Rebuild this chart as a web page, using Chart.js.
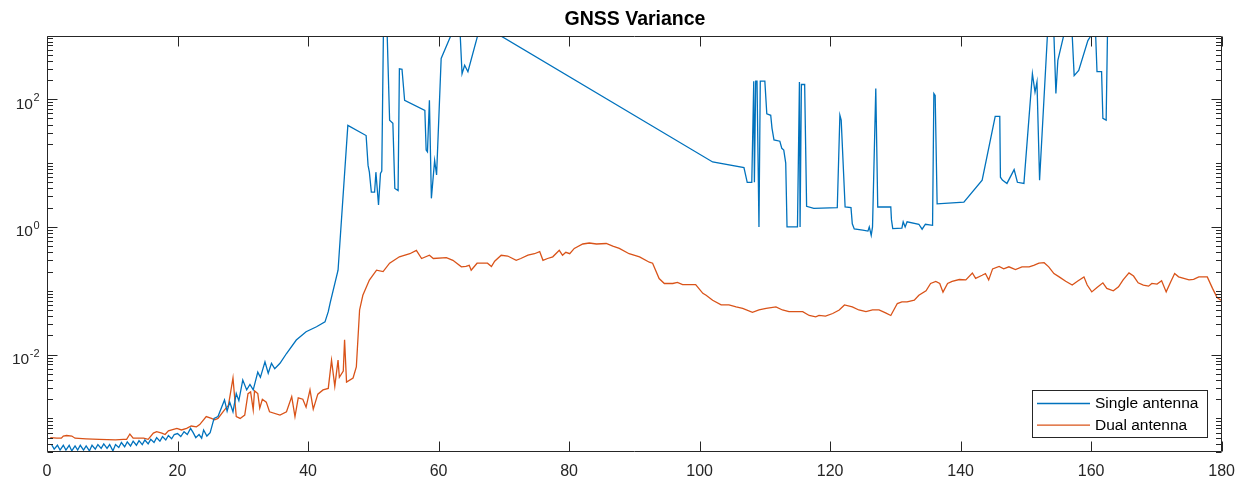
<!DOCTYPE html>
<html>
<head>
<meta charset="utf-8">
<title>GNSS Variance</title>
<script src="https://cdn.jsdelivr.net/npm/chart.js@4.4.1/dist/chart.umd.min.js"></script>
<style>
  html, body { margin: 0; padding: 0; background: #fff; }
</style>
</head>
<body>
<canvas id="chart" width="1245" height="481"></canvas>
<script>
const titleText = 'GNSS Variance';
const seriesNames = ['Single antenna', 'Dual antenna'];
const seriesColors = ['#0072BD', '#D95319'];

const xTickValues = [0, 20, 40, 60, 80, 100, 120, 140, 160, 180];
const yTickValues = [1e-2, 1e0, 1e2];
const yTickBase = '10';
const yTickExponents = ['-2', '0', '2'];

// single antenna (blue), values above ~1000 run off the top of the axes
const singleX = [0.7, 1.1, 1.6, 2.0, 2.5, 2.9, 3.4, 3.8, 4.3, 4.7, 5.1, 5.6, 6.0, 6.5, 6.9, 7.4, 7.8, 8.3, 8.7, 9.2,
  9.6, 10.1, 10.5, 11.0, 11.4, 11.9, 12.3, 12.8, 13.2, 13.7, 14.1, 14.6, 15.0, 15.5, 15.9, 16.4, 16.8, 17.3, 17.7, 18.2,
  18.6, 19.1, 19.5, 20.0, 20.5, 21.0, 21.5, 22.0, 22.4, 22.8, 23.3, 23.7, 24.0, 24.5, 25.0, 25.6, 26.2, 27.2, 27.6, 28.0,
  28.5, 29.0, 29.4, 30.0, 30.6, 31.1, 31.6, 32.3, 32.7, 33.4, 33.9, 34.4, 34.9, 35.7, 36.7, 38.2, 39.7, 41.3, 42.6, 43.1,
  43.4, 44.6, 46.1, 48.9, 49.2, 49.4, 49.7, 50.2, 50.4, 50.8, 51.1, 51.3, 51.6, 52.0, 52.5, 53.0, 53.3, 53.8, 54.0, 54.4,
  54.8, 57.9, 58.1, 58.3, 58.6, 58.9, 59.4, 59.7, 60.4, 61.9, 62.4, 63.1, 63.6, 64.0, 64.5, 66.0, 66.5, 68.5, 69.4, 102.0,
  106.8, 107.3, 108.0, 108.3, 108.4, 108.6, 108.8, 109.1, 109.3, 110.0, 110.3, 110.9, 111.1, 111.4, 112.3, 112.6, 112.9, 113.2, 113.4, 115.0,
  115.3, 115.4, 115.6, 116.1, 116.4, 117.5, 121.1, 121.5, 121.7, 122.3, 123.2, 123.4, 123.7, 125.0, 125.8, 126.0, 126.3, 126.5, 127.0, 127.3,
  129.3, 129.4, 129.6, 131.0, 131.2, 131.5, 131.8, 133.6, 134.1, 134.6, 135.7, 135.9, 136.1, 136.4, 140.5, 143.3, 145.3, 146.0, 146.1, 146.4,
  147.1, 148.2, 148.7, 149.7, 151.0, 151.4, 151.7, 152.1, 153.3, 153.8, 154.3, 154.6, 154.9, 155.8, 156.3, 157.1, 157.4, 158.1, 159.5, 160.0,
  160.4, 160.7, 160.9, 161.6, 161.8, 162.3, 162.5, 162.8];
const singleY = [3.9e-4, 3.3e-4, 3.8e-4, 3.2e-4, 3.8e-4, 3.2e-4, 3.8e-4, 3.1e-4, 3.7e-4, 3.2e-4, 3.8e-4, 3.2e-4, 3.7e-4, 3.1e-4, 3.8e-4, 3.3e-4, 3.9e-4, 3.4e-4, 4.0e-4, 3.4e-4,
  3.9e-4, 3.1e-4, 3.9e-4, 3.5e-4, 4.2e-4, 3.6e-4, 4.3e-4, 3.7e-4, 4.4e-4, 3.8e-4, 4.5e-4, 3.9e-4, 4.6e-4, 4.0e-4, 4.7e-4, 4.2e-4, 5.0e-4, 4.4e-4, 5.2e-4, 4.6e-4,
  5.4e-4, 4.8e-4, 5.6e-4, 5.8e-4, 5.2e-4, 6.2e-4, 5.6e-4, 7.0e-4, 6.0e-4, 5.0e-4, 5.6e-4, 4.9e-4, 6.6e-4, 5.3e-4, 6.0e-4, 1.0e-3, 1.07e-3, 1.95e-3, 1.3e-3, 1.8e-3,
  1.27e-3, 2.45e-3, 1.9e-3, 4.0e-3, 2.8e-3, 3.4e-3, 2.8e-3, 5.3e-3, 4.4e-3, 7.7e-3, 5.1e-3, 7.3e-3, 6.0e-3, 7.3e-3, 0.0104, 0.0169, 0.0228, 0.0273, 0.0325, 0.047,
  0.065, 0.21, 39, 27, 9.2, 7.2, 3.5, 3.5, 7.2, 2.2, 6.9, 7.5, 3000, 3000, 47, 42, 4.0, 3.7, 300, 295,
  96, 67, 16, 15, 96, 2.8, 11, 6.5, 435, 1000, 3000, 3000, 250, 340, 270, 1000, 3000, 3000, 1000, 10.4,
  8.5, 5.0, 5.0, 192, 5.0, 192, 192, 1.0, 192, 192, 59, 56, 35, 23, 22, 17, 16, 10, 1.0, 1.0,
  186, 1.0, 170, 170, 2.1, 1.95, 2.0, 56, 47, 2.05, 2.0, 1.12, 0.93, 0.89, 0.86, 1.0, 0.74, 1.0, 147, 2.05,
  2.05, 1.3, 0.94, 0.96, 1.2, 1.0, 1.2, 1.1, 0.92, 1.1, 1.06, 123, 115, 2.3, 2.45, 5.4, 54, 54, 6.0, 5.4,
  4.8, 7.9, 5.0, 4.8, 251, 129, 186, 5.4, 1000, 3000, 1000, 123, 407, 1000, 3000, 1000, 234, 282, 830, 1000,
  980, 950, 270, 270, 50, 47, 1000, 5000];

// dual antenna (orange)
const dualX = [0.5, 1.5, 2.2, 2.5, 3.0, 3.8, 4.3, 6.0, 8.0, 10.5, 11.7, 12.2, 12.7, 13.2, 14.8, 15.5, 16.3, 16.8, 17.6, 18.1,
  18.6, 19.9, 20.6, 21.4, 22.1, 22.9, 23.4, 24.4, 25.2, 25.7, 26.2, 27.2, 27.8, 28.5, 29.0, 29.6, 30.3, 30.8, 31.2, 31.6,
  31.8, 32.3, 32.6, 33.0, 33.6, 34.1, 35.7, 36.7, 37.5, 38.0, 38.5, 39.2, 39.7, 40.3, 40.8, 41.5, 42.3, 43.1, 43.6, 44.1,
  44.6, 44.8, 45.4, 45.6, 45.9, 46.9, 47.4, 47.9, 48.4, 49.4, 50.5, 51.5, 52.5, 54.0, 55.6, 56.6, 57.4, 58.6, 59.2, 61.2,
  62.2, 63.5, 64.2, 64.7, 65.0, 65.9, 67.5, 68.1, 68.6, 69.6, 70.6, 71.9, 72.6, 73.7, 74.7, 75.5, 76.0, 76.7, 77.5, 78.5,
  79.0, 79.5, 80.1, 80.8, 82.1, 83.1, 84.2, 85.7, 86.7, 87.7, 89.2, 90.8, 92.3, 92.8, 93.8, 94.6, 95.9, 96.6, 97.4, 99.4,
  100.5, 101.0, 102.0, 103.3, 104.5, 105.6, 106.6, 108.1, 109.1, 110.2, 111.7, 112.7, 113.7, 114.8, 115.8, 116.8, 117.8, 118.3, 119.3, 120.4,
  121.4, 122.2, 123.4, 124.4, 125.5, 126.5, 127.5, 128.5, 129.3, 130.3, 131.0, 131.8, 132.9, 133.6, 134.7, 135.4, 136.2, 136.8, 137.3, 138.0,
  138.7, 139.8, 140.8, 141.8, 142.3, 143.3, 143.8, 144.3, 144.9, 145.9, 146.6, 147.4, 148.4, 149.4, 150.5, 151.2, 152.0, 152.8, 153.5, 154.3,
  155.1, 156.1, 157.1, 157.9, 158.9, 159.4, 160.1, 160.9, 161.8, 162.4, 163.4, 164.2, 164.9, 165.8, 166.5, 167.2, 168.0, 168.8, 169.3, 170.1,
  170.8, 171.5, 172.2, 172.8, 173.4, 174.2, 175.0, 175.7, 176.5, 177.3, 177.8, 178.6, 179.3, 179.9];
const dualY = [5.0e-4, 4.9e-4, 4.9e-4, 5.3e-4, 5.4e-4, 5.3e-4, 4.9e-4, 4.8e-4, 4.7e-4, 4.6e-4, 4.7e-4, 4.7e-4, 5.7e-4, 4.9e-4, 4.9e-4, 4.7e-4, 5.9e-4, 6.2e-4, 5.9e-4, 5.6e-4,
  6.4e-4, 7.0e-4, 6.6e-4, 7.0e-4, 7.6e-4, 7.4e-4, 8.0e-4, 1.07e-3, 1.0e-3, 9.5e-4, 1.0e-3, 1.36e-3, 1.6e-3, 4.3e-3, 1.07e-3, 1.0e-3, 1.13e-3, 2.45e-3, 2.6e-3, 1.36e-3,
  2.7e-3, 2.45e-3, 1.45e-3, 2.0e-3, 1.8e-3, 1.27e-3, 1.13e-3, 1.27e-3, 2.2e-3, 1.07e-3, 2.1e-3, 2.0e-3, 1.5e-3, 2.8e-3, 1.4e-3, 2.4e-3, 2.8e-3, 2.95e-3, 8.2e-3, 3.2e-3,
  8.2e-3, 4.4e-3, 5.5e-3, 0.017, 3.7e-3, 4.3e-3, 6.4e-3, 0.05, 0.085, 0.147, 0.21, 0.20, 0.27, 0.34, 0.38, 0.43, 0.32, 0.36, 0.32, 0.33,
  0.30, 0.237, 0.24, 0.25, 0.21, 0.27, 0.27, 0.24, 0.29, 0.36, 0.35, 0.30, 0.32, 0.36, 0.38, 0.41, 0.30, 0.32, 0.34, 0.43,
  0.36, 0.40, 0.38, 0.46, 0.54, 0.56, 0.54, 0.55, 0.50, 0.46, 0.38, 0.34, 0.28, 0.27, 0.155, 0.13, 0.13, 0.135, 0.125, 0.125,
  0.091, 0.085, 0.071, 0.06, 0.06, 0.056, 0.053, 0.046, 0.050, 0.053, 0.056, 0.050, 0.047, 0.047, 0.047, 0.041, 0.039, 0.041, 0.040, 0.044,
  0.050, 0.060, 0.056, 0.050, 0.047, 0.050, 0.050, 0.045, 0.041, 0.063, 0.067, 0.067, 0.071, 0.085, 0.10, 0.13, 0.14, 0.13, 0.095, 0.13,
  0.14, 0.15, 0.148, 0.19, 0.156, 0.175, 0.186, 0.148, 0.22, 0.24, 0.22, 0.237, 0.215, 0.237, 0.237, 0.25, 0.27, 0.275, 0.237, 0.186,
  0.165, 0.141, 0.123, 0.141, 0.165, 0.123, 0.096, 0.112, 0.133, 0.109, 0.10, 0.115, 0.148, 0.19, 0.17, 0.133, 0.123, 0.118, 0.13, 0.127,
  0.143, 0.096, 0.138, 0.186, 0.165, 0.156, 0.148, 0.151, 0.165, 0.165, 0.165, 0.109, 0.078, 0.071];

const toPoints = (xs, ys) => xs.map((x, i) => ({ x: x, y: ys[i] }));

const fontFamily = "'Liberation Sans', Arial, Helvetica, sans-serif";
Chart.defaults.font.family = fontFamily;

// matlab style box with inward ticks on all four sides, plus 10^n labels
const axesBox = {
  id: 'axesBox',
  afterDatasetsDraw(chart) {
    const { ctx, chartArea: a, scales: { x, y } } = chart;
    const L = Math.round(a.left) + 0.5, R = Math.round(a.right) - 0.5;
    const T = Math.round(a.top) + 0.5, B = Math.round(a.bottom) - 0.5;
    ctx.save();
    ctx.strokeStyle = '#262626';
    ctx.lineWidth = 1;
    ctx.beginPath();
    ctx.rect(L, T, R - L, B - T);
    x.ticks.forEach(t => {
      const px = Math.round(x.getPixelForValue(t.value)) + 0.5;
      ctx.moveTo(px, B); ctx.lineTo(px, B - 10);
      ctx.moveTo(px, T); ctx.lineTo(px, T + 10);
    });
    for (let e = -4; e <= 3; e++) {
      for (let k = 1; k <= 9; k++) {
        const v = k * Math.pow(10, e);
        if (v < y.min || v > y.max) continue;
        const major = k === 1 && yTickValues.some(t => Math.abs(Math.log10(t) - e) < 1e-9);
        const len = major ? 10 : 5.5;
        const py = Math.round(y.getPixelForValue(v)) + 0.5;
        ctx.moveTo(L, py); ctx.lineTo(L + len, py);
        ctx.moveTo(R, py); ctx.lineTo(R - len, py);
      }
    }
    ctx.stroke();

    // y tick labels with superscript exponent
    ctx.fillStyle = '#262626';
    ctx.textAlign = 'right';
    ctx.textBaseline = 'middle';
    const labelRight = a.left - 7.5;
    yTickValues.forEach((v, i) => {
      const py = y.getPixelForValue(v);
      ctx.font = '11px ' + fontFamily;
      const expW = ctx.measureText(yTickExponents[i]).width;
      ctx.fillText(yTickExponents[i], labelRight, py - 1);
      ctx.font = '15.5px ' + fontFamily;
      ctx.fillText(yTickBase, labelRight - expW - 0.5, py + 5);
    });
    ctx.restore();
  }
};

// legend box in the lower right corner of the axes
const legendBox = {
  id: 'legendBox',
  afterDraw(chart) {
    const { ctx, chartArea: a } = chart;
    const w = 175, h = 47;
    const bx = Math.round(a.right) - 15 - w, by = Math.round(a.bottom) - 15 - h;
    ctx.save();
    ctx.fillStyle = '#fff';
    ctx.fillRect(bx, by, w, h);
    ctx.strokeStyle = '#262626';
    ctx.lineWidth = 1;
    ctx.strokeRect(bx + 0.5, by + 0.5, w, h);
    chart.data.datasets.forEach((ds, i) => {
      const ly = by + 13.5 + i * 21.7;
      ctx.strokeStyle = ds.borderColor;
      ctx.lineWidth = ds.borderWidth;
      ctx.beginPath();
      ctx.moveTo(bx + 5, ly); ctx.lineTo(bx + 58, ly);
      ctx.stroke();
      ctx.fillStyle = '#000';
      ctx.font = '15.5px ' + fontFamily;
      ctx.textBaseline = 'middle';
      ctx.fillText(ds.label, bx + 63, ly + 0.5);
    });
    ctx.restore();
  }
};

new Chart(document.getElementById('chart'), {
  type: 'line',
  data: {
    datasets: [
      { label: seriesNames[0], data: toPoints(singleX, singleY), borderColor: seriesColors[0],
        borderWidth: 1.3, pointRadius: 0, tension: 0, fill: false, clip: 0 },
      { label: seriesNames[1], data: toPoints(dualX, dualY), borderColor: seriesColors[1],
        borderWidth: 1.3, pointRadius: 0, tension: 0, fill: false, clip: 0 }
    ]
  },
  options: {
    responsive: false,
    animation: false,
    devicePixelRatio: 1,
    layout: { padding: { left: 47, right: 22, top: 0, bottom: 0 } },
    plugins: {
      legend: { display: false },
      tooltip: { enabled: false },
      title: {
        display: true, text: titleText, color: '#000',
        font: { size: 19.5, weight: 'bold' },
        padding: { top: 8, bottom: 5 }
      }
    },
    scales: {
      x: {
        type: 'linear', min: 0, max: 180,
        afterBuildTicks: s => { s.ticks = xTickValues.map(v => ({ value: v })); },
        afterFit: s => { s.height = 29; },
        grid: { display: false, drawTicks: false },
        border: { display: false },
        ticks: { color: '#262626', font: { size: 16 }, padding: 10, maxRotation: 0, autoSkip: false }
      },
      y: {
        type: 'logarithmic', min: 2.98e-4, max: 964,
        afterBuildTicks: s => { s.ticks = yTickValues.map(v => ({ value: v })); },
        afterFit: s => { s.width = 0; },
        grid: { display: false, drawTicks: false },
        border: { display: false },
        ticks: { display: false }
      }
    }
  },
  plugins: [axesBox, legendBox]
});
</script>
</body>
</html>
